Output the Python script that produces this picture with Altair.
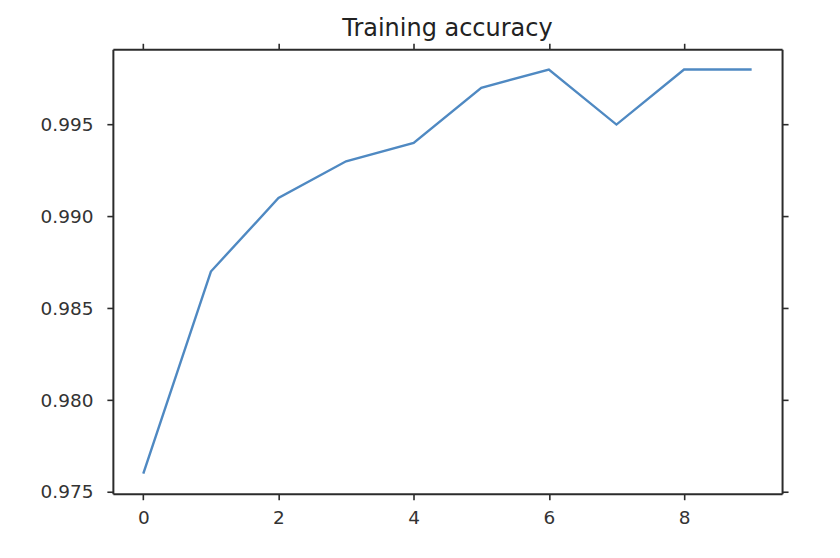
import altair as alt
import pandas as pd

epochs = [0, 1, 2, 3, 4, 5, 6, 7, 8, 9]
accuracy = [0.976, 0.987, 0.991, 0.993, 0.994, 0.997, 0.998, 0.995, 0.998, 0.998]
x_ticks = [0, 2, 4, 6, 8]
y_ticks = [0.975, 0.980, 0.985, 0.990, 0.995]

df = pd.DataFrame({"epoch": epochs, "acc": accuracy})

AX = "#2b2b2b"
FONT = "DejaVu Sans"

xscale = alt.Scale(domain=[-0.45, 9.45], nice=False, zero=False)
yscale = alt.Scale(domain=[0.9749, 0.9991], nice=False, zero=False)

common = dict(grid=False, domainColor=AX, domainWidth=2, tickColor=AX,
              tickWidth=1.6, tickSize=6, title=None)

line = alt.Chart(df).mark_line(color="#4f89c2", strokeWidth=2.4).encode(
    x=alt.X("epoch:Q", scale=xscale,
            axis=alt.Axis(orient="bottom", values=x_ticks, labelFont=FONT,
                          labelFontSize=18.5, labelColor="#333333",
                          labelPadding=9, **common)),
    y=alt.Y("acc:Q", scale=yscale,
            axis=alt.Axis(orient="left", values=y_ticks, format=".3f",
                          labelFont=FONT, labelFontSize=18.5,
                          labelColor="#333333", labelPadding=14, **common)),
)

frame = alt.Chart(df).mark_line(opacity=0).encode(
    x=alt.X("epoch:Q", scale=xscale,
            axis=alt.Axis(orient="top", values=x_ticks, labels=False, **common)),
    y=alt.Y("acc:Q", scale=yscale,
            axis=alt.Axis(orient="right", values=y_ticks, labels=False, **common)),
)

chart = alt.layer(line, frame).resolve_axis(
    x="independent", y="independent"
).properties(
    width=670,
    height=445,
    title=alt.TitleParams("Training accuracy", font=FONT, fontSize=24,
                          fontWeight="normal", color="#222222", offset=1),
    autosize=alt.AutoSizeParams(type="none"),
    padding={"left": 105, "top": 41, "right": 50, "bottom": 50},
).configure_view(stroke=None)

chart.save("out.html", embed_options={"renderer": "svg", "actions": False})
